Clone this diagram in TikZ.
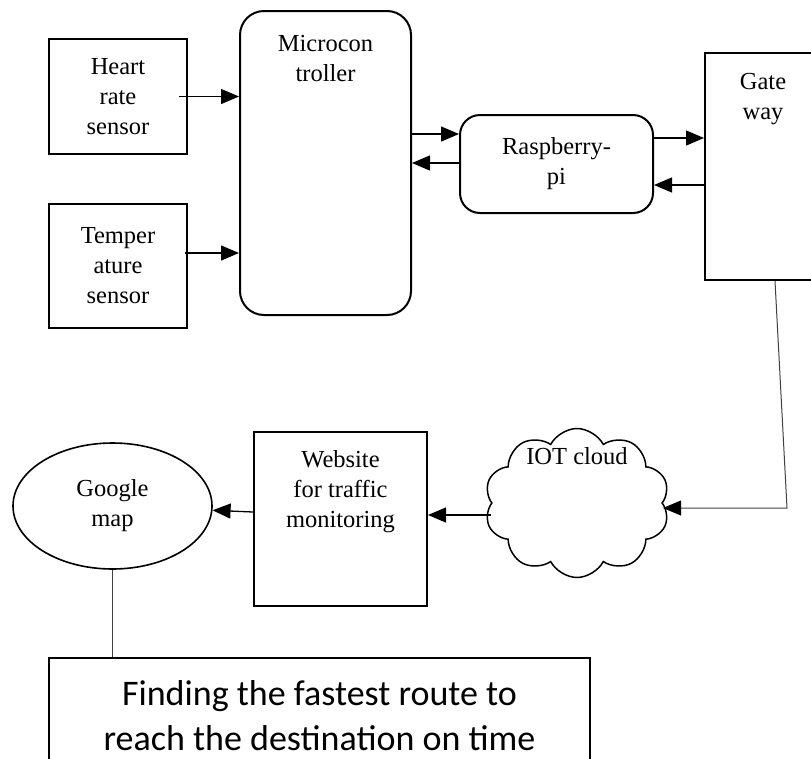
\documentclass[tikz,border=0pt]{standalone}
\usepackage{fontspec}
\setmainfont{Liberation Serif}
\newfontfamily\calibri{Carlito}
\usetikzlibrary{positioning,shapes.geometric,shapes.symbols,arrows.meta}

\tikzset{
  blk/.style={draw, line width=2pt, inner sep=0pt},
  rblk/.style={blk, rounded corners=24pt},
  txt/.style={align=center, font=\fontsize{24.5}{30}\selectfont, inner sep=0pt},
  arr/.style={-{Triangle[length=18pt,width=15pt,color=black]}, line width=1.3pt},
  wire/.style={line width=1pt, draw=black!75},
}

\begin{document}
\begin{tikzpicture}[x=1pt,y=-1pt]
\useasboundingbox (0,0) rectangle (811,758);
\clip (0,0) rectangle (811,758);

% Draw sensors
\node[blk, txt, minimum width=138pt, minimum height=115pt] (hr) at (118,96.5) {Heart\\rate\\sensor};
\node[blk, txt, minimum width=138pt, minimum height=124pt] (tmp) at (118,266) {Temper\\ature\\sensor};

% Draw controller and raspberry
\node[rblk, minimum width=171pt, minimum height=304pt] (mc) at (325.5,163) {};
\node[txt, below=25pt of mc.north] (mctxt) {Microcon\\troller};
\node[rblk, rounded corners=20pt, txt, minimum width=193pt, minimum height=98pt] (rpi) at (556.5,164) {Raspberry-\\pi};

% Draw gateway
\node[blk, minimum width=116pt, minimum height=227pt] (gw) at (763,166.5) {};
\node[txt, below=21pt of gw.north] (gwtxt) {Gate\\way};

% Draw cloud, website and map
\node[cloud, draw, line width=1.5pt, cloud puffs=10, cloud puff arc=125, aspect=1.25,
      minimum width=185pt, minimum height=149pt, inner sep=0pt] (cld) at (577,503) {};
\node[txt, below=20pt of cld.north] (cldtxt) {IOT cloud};
\node[blk, minimum width=173pt, minimum height=174pt] (web) at (340.5,519) {};
\node[txt, below=19pt of web.north] (webtxt) {Website\\for traffic\\monitoring};
\node[ellipse, draw, line width=1.6pt, txt, minimum width=199pt, minimum height=126pt] (gm) at (112.5,506) {Google\\map};

% Draw result
\node[blk, font=\calibri\fontsize{36}{45}\selectfont, align=center, anchor=north,
      minimum width=541pt, minimum height=115pt] (res) at (319.5,657) {Finding the fastest route to\\reach the destination on time};

% Draw arrows
\draw[arr] ([xshift=-9pt]hr.east) -- (hr.east -| mc.west);
\draw[arr] ([xshift=-3pt,yshift=13pt]tmp.east) -- ([yshift=13pt]tmp.east -| mc.west);
\draw[arr] ([yshift=30pt]rpi.west -| mc.east) -- ([yshift=30pt]rpi.west);
\draw[arr] ([yshift=1pt]rpi.west) -- ([yshift=1pt]rpi.west -| mc.east);
\draw[arr] ([yshift=26pt]rpi.east) -- ([yshift=26pt]rpi.east -| gw.west);
\draw[arr] ([yshift=-21pt]rpi.east -| gw.west) -- ([yshift=-21pt]rpi.east);
\coordinate (bend) at (787,508);
\draw[wire, arr, line width=1pt] ([xshift=12pt]gw.south) -- (bend) -- (bend -| cld.east);
\draw[arr] ([yshift=-12pt]cld.west) -- ([yshift=-12pt]cld.west -| web.east);
\draw[arr] ([yshift=7pt]web.west) -- (gm);
\draw[wire] (gm.south) -- (gm.south |- res.north);
\end{tikzpicture}
\end{document}
